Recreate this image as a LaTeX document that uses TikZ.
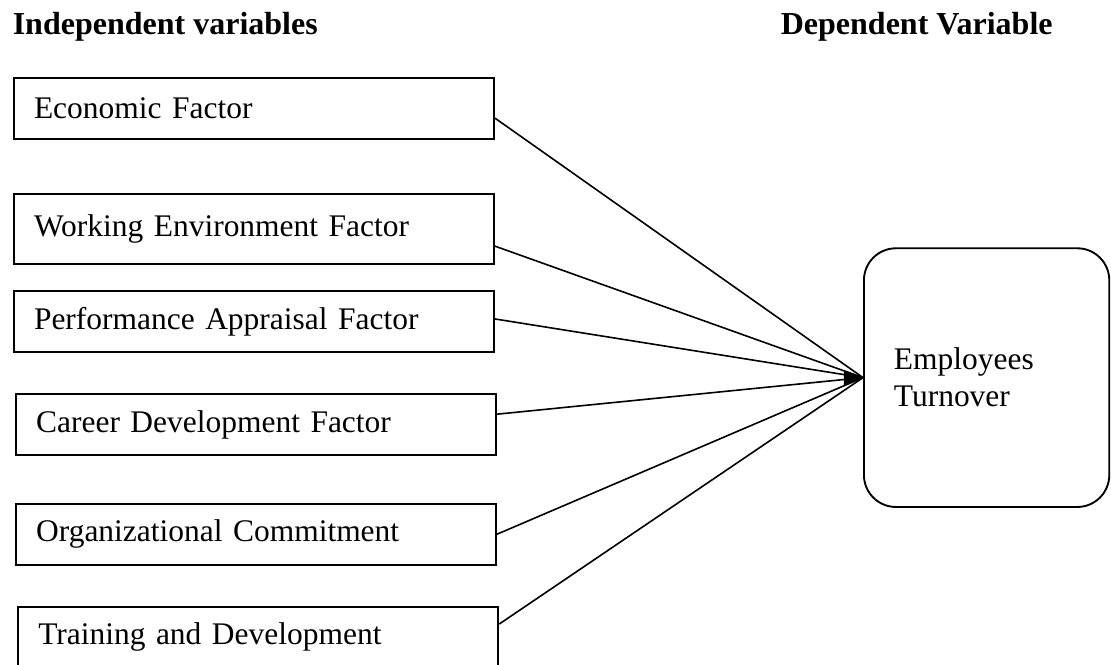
\documentclass[tikz,border=0pt]{standalone}
\usepackage{fontspec}
\setmainfont{Liberation Serif}
\usetikzlibrary{arrows,positioning}
\tikzstyle{var}=[draw,line width=0.7pt,minimum height=22.9pt,text width=165pt,inner xsep=7.5pt,align=left]
\tikzstyle{dep}=[draw,line width=0.7pt,rounded corners=12pt,minimum height=97pt,text width=69.5pt,inner xsep=11.25pt,align=left]
\tikzstyle{head}=[anchor=base west,inner sep=0pt,font=\bfseries\fontsize{12}{14}\selectfont]

\begin{document}
\begin{tikzpicture}[
      line width=0.6pt,
      font=\fontsize{11.8}{13.9}\selectfont
    ]
      \useasboundingbox (0,0) rectangle (416.6pt,-249pt);

      \node [head] (ivh) at (4.5pt,-13.1pt) {Independent variables};
      \node [head] (dvh) at (292.5pt,-13.1pt) {Dependent Variable};

      \node [var,anchor=north west] (iv1) at (4.9pt,-28.9pt) {Economic Factor};
      \node [var,minimum height=26.3pt] (iv2) [node distance=45.2pt,below of=iv1] {Working Environment Factor};
      \node [var] (iv3) [node distance=34.7pt,below of=iv2] {Performance Appraisal Factor};
      \node [var] (iv4) [node distance=38.6pt,below of=iv3,xshift=0.8pt] {Career Development Factor};
      \node [var] (iv5) [node distance=41.1pt,below of=iv4] {Organizational Commitment};
      \node [var] (iv6) [node distance=38.6pt,below of=iv5,xshift=0.8pt] {Training and Development};

      \node [dep,anchor=west] (dv) at (323.6pt,-141.6pt) {Employees\\Turnover};

      \draw ([yshift=-3.6pt]iv1.east) -- (dv.west);
      \draw ([yshift=-6.4pt]iv2.east) -- (dv.west);
      \draw ([yshift=1pt]iv3.east) -- (dv.west);
      \draw ([yshift=3.9pt]iv4.east) -- (dv.west);
      \draw (iv5.east) -- (dv.west);
      \draw ([yshift=4.9pt]iv6.east) -- (dv.west);
      % arrow head where the lines meet
      \filldraw [line width=0.4pt,line join=miter] ([xshift=-7pt,yshift=2.5pt]dv.west) -- (dv.west) -- ([xshift=-7pt,yshift=-2.5pt]dv.west) -- cycle;
    \end{tikzpicture}
\end{document}
